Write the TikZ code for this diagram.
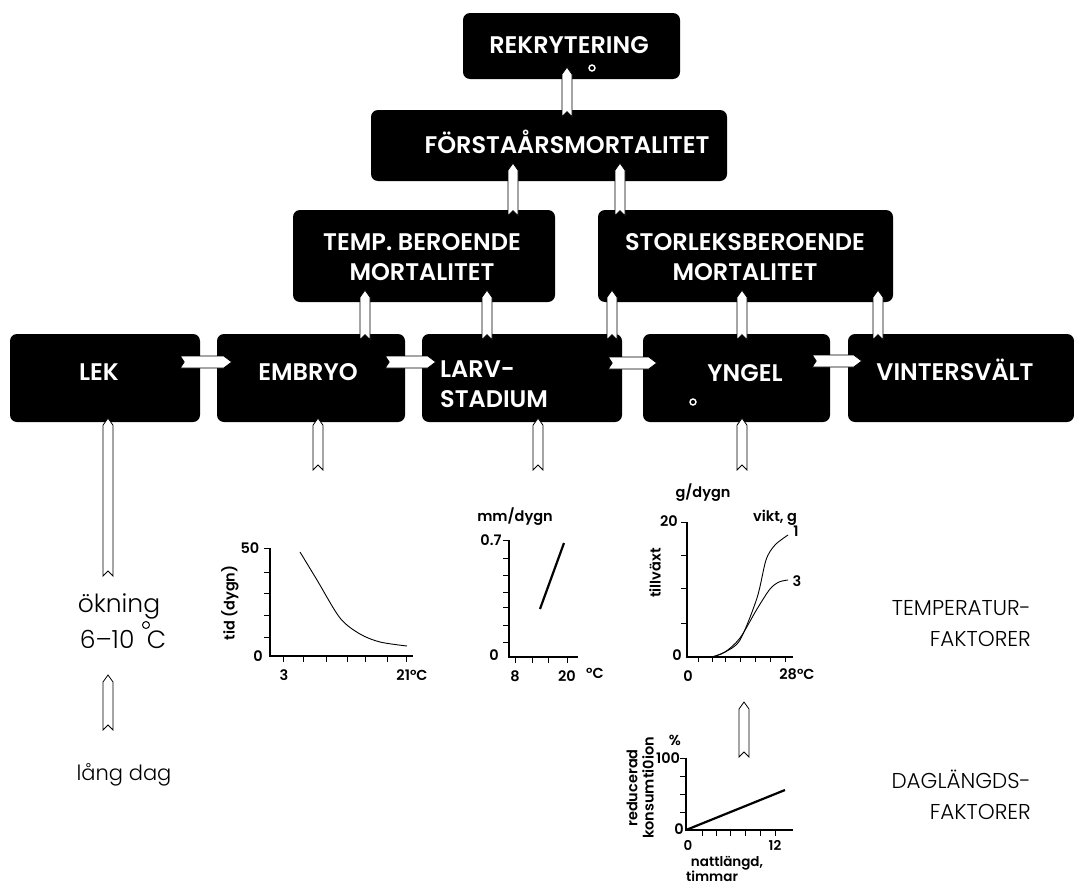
\documentclass[tikz,border=0pt]{standalone}
\usepackage{fontspec}
\setmainfont{Poppins}
\newfontfamily\boxfont{Poppins SemiBold}
\newfontfamily\lightfont{Poppins Light}
\usetikzlibrary{calc}
\tikzset{
  box/.style={fill=black, rounded corners=7pt, inner sep=0pt},
  boxtxt/.style={text=white, font=\boxfont\fontsize{24}{30}\selectfont, align=center, inner sep=0pt},
  arr/.style={fill=white, draw=black, line width=0.8pt, line join=miter},
  axisline/.style={line width=1.4pt},
  tickl/.style={line width=1pt},
  gl/.style={font=\boxfont\fontsize{14.5}{15}\selectfont, inner sep=0pt},
  glsm/.style={font=\boxfont\fontsize{13.5}{14}\selectfont, inner sep=0pt},
  bigtxt/.style={font=\lightfont\fontsize{25}{32}\selectfont, inner sep=0pt},
  rtxt/.style={font=\lightfont\fontsize{21.5}{31}\selectfont, inner sep=0pt, anchor=east, align=right},
  ring/.style={draw=white, line width=1.4pt},
}
\newcommand\varr[3]{\path let \p1=(#2), \p2=(#3) in [arr]
  ({#1pt-5pt},{\y1}) -- ({#1pt-5pt},{\y2-7pt}) -- ({#1pt},{\y2}) -- ({#1pt+5pt},{\y2-7pt}) -- ({#1pt+5pt},{\y1}) -- ({#1pt},{\y1+5pt}) -- cycle;}
\newcommand\harr[3]{\path let \p1=(#2), \p2=(#3) in [arr]
  ({\x1},{-#1pt+6pt}) -- ({\x2-8pt},{-#1pt+6pt}) -- ({\x2},{-#1pt}) -- ({\x2-8pt},{-#1pt-6pt}) -- ({\x1},{-#1pt-6pt}) -- ({\x1+4pt},{-#1pt}) -- cycle;}
\begin{document}
\begin{tikzpicture}[x=1pt,y=-1pt]
\useasboundingbox (0,0) rectangle (1074,886);
% boxes
\node[box, minimum width=217, minimum height=66] (rek) at (571.5,46) {};
\node[box, minimum width=356, minimum height=71] (forsta) at (549,145.5) {};
\node[box, minimum width=262, minimum height=92] (temp) at (424,256) {};
\node[box, minimum width=295, minimum height=92] (storlek) at (745.5,256) {};
\node[box, minimum width=190, minimum height=88] (lek) at (105,378) {};
\node[box, minimum width=188, minimum height=88] (embryo) at (311,378) {};
\node[box, minimum width=200, minimum height=88] (larv) at (522,378) {};
\node[box, minimum width=187, minimum height=88] (yngel) at (736.5,378) {};
\node[box, minimum width=226, minimum height=88] (vinter) at (961,378) {};
% box texts
\node[boxtxt] (trek) at (569,45) {REKRYTERING};
\node[boxtxt] (tforsta) at (567,142) {FÖRSTAÅRSMORTALITET};
\node[boxtxt] (ttemp) at (422,257) {TEMP. BEROENDE\\MORTALITET};
\node[boxtxt] (tstorlek) at (745,257) {STORLEKSBEROENDE\\MORTALITET};
\node[boxtxt] (tlek) at (99,372) {LEK};
\node[boxtxt] (tembryo) at (308,372) {EMBRYO};
\node[boxtxt, align=left, anchor=west] (tlarv) at (440,384) {LARV-\\STADIUM};
\node[boxtxt] (tyngel) at (745,373) {YNGEL};
\node[boxtxt] (tvinter) at (955,370) {VINTERSVÄLT};
\draw[ring] (592,68) circle (3);
\draw[ring] (693,402) circle (3);
% vertical arrows between boxes
\varr{567}{$(forsta.north)+(0,7)$}{$(rek.south)+(0,-12)$}
\varr{513}{$(temp.north)+(0,6)$}{$(forsta.south)+(0,-18)$}
\varr{620}{$(storlek.north)+(0,6)$}{$(forsta.south)+(0,-18)$}
\varr{365}{$(embryo.north)+(0,6)$}{$(temp.south)+(0,-12)$}
\varr{487}{$(larv.north)+(0,6)$}{$(temp.south)+(0,-12)$}
\varr{612}{$(larv.north)+(0,6)$}{$(storlek.south)+(0,-12)$}
\varr{742}{$(yngel.north)+(0,6)$}{$(storlek.south)+(0,-12)$}
\varr{878}{$(vinter.north)+(0,6)$}{$(storlek.south)+(0,-12)$}
% horizontal arrows
\harr{362}{$(lek.east)+(-20,0)$}{$(embryo.west)+(15,0)$}
\harr{362}{$(embryo.east)+(-20,0)$}{$(larv.west)+(14,0)$}
\harr{363}{$(larv.east)+(-14,0)$}{$(yngel.west)+(14,0)$}
\harr{361}{$(yngel.east)+(-18,0)$}{$(vinter.west)+(14,0)$}
% free ends below boxes
\coordinate (lekfoot) at (108,576);
\coordinate (embfoot) at (318,470);
\coordinate (larvfoot) at (538,470);
\coordinate (yngfoot) at (742,470);
\varr{108}{lekfoot}{$(lek.south)+(0,-4)$}
\varr{318}{embfoot}{$(embryo.south)+(0,-4)$}
\varr{538}{larvfoot}{$(larv.south)+(0,-4)$}
\varr{742}{yngfoot}{$(yngel.south)+(0,-4)$}
% left texts
\node[bigtxt] (okning) at (119,606) {ökning};
\node[bigtxt] (grader) at (123,639) {6–10\hspace{0.5em}C};
\draw[line width=1pt] (146,625) circle (3.5);
\node[bigtxt, font=\lightfont\fontsize{21}{30}\selectfont] (langdag) at (124,775) {lång dag};
\coordinate (okfoot) at (108,730);
\coordinate (okhead) at (108,675);
\varr{108}{okfoot}{okhead}
% right texts
\node[rtxt] (tempf) at (1031,624) {TEMPERATUR-\\FAKTORER};
\node[rtxt] (dagf) at (1031,795) {DAGLÄNGDS-\\FAKTORER};
% graph 1
\draw[axisline] (270,548) -- (270,656) -- (413,656);
\foreach \y in {548,572,593,615,637} \draw[tickl] (264,\y) -- (270,\y);
\foreach \x in {283,303,326,347,365,387,406} \draw[tickl] (\x,656) -- (\x,662);
\draw[line width=0.9pt] plot[smooth] coordinates {(300,552) (317,580) (340,618) (360,634) (380,642) (407,646)};
\node[gl] (g1a) at (250,548) {50};
\node[gl] (g1b) at (258,656) {0};
\node[gl] (g1c) at (284,675) {3};
\node[gl] (g1d) at (412,675) {21°C};
\node[gl, rotate=90] (g1e) at (230,603) {tid (dygn)};
% graph 2
\draw[axisline] (509,540) -- (509,657) -- (578,657);
\foreach \y in {540,558,575,592,607,625,642} \draw[tickl] (503,\y) -- (509,\y);
\foreach \x in {515,532,548,567} \draw[tickl] (\x,657) -- (\x,663);
\draw[line width=2.2pt] (540,609) -- (564,543);
\node[gl] (g2a) at (515,517) {mm/dygn};
\node[gl] (g2b) at (491,540) {0.7};
\node[gl] (g2c) at (494,655) {0};
\node[gl] (g2d) at (515,676) {8};
\node[gl] (g2e) at (567,676) {20};
\node[gl] (g2f) at (595,673) {°C};
% graph 3
\draw[axisline] (687,522) -- (687,657) -- (793,657);
\foreach \y in {522,555,588,623} \draw[tickl] (681,\y) -- (687,\y);
\foreach \x in {698,712,725,740,755,770,785} \draw[tickl] (\x,657) -- (\x,662);
\draw[line width=0.9pt] plot[smooth] coordinates {(712,657) (725,652) (740,640) (757,598) (766,560) (775,545) (788,535)};
\draw[line width=0.9pt] plot[smooth] coordinates {(712,657) (725,652) (740,638) (757,609) (770,589) (779,582) (788,580)};
\node[gl] (g3a) at (703,493) {g/dygn};
\node[gl] (g3b) at (775,518) {vikt, g};
\node[gl] (g3c) at (796,531) {1};
\node[gl] (g3d) at (797,581) {3};
\node[gl] (g3e) at (669,521) {20};
\node[gl] (g3f) at (677,655) {0};
\node[gl] (g3g) at (688,676) {0};
\node[gl] (g3h) at (797,674) {28°C};
\node[gl, rotate=90] (g3i) at (655,573) {tillväxt};
% arrow graph4 -> graph3
\coordinate (g4top) at (744,757);
\coordinate (g3foot) at (744,702);
\varr{744}{g4top}{g3foot}
% graph 4
\draw[axisline] (686,758) -- (686,830) -- (793,830);
\foreach \y in {758,776,794,812} \draw[tickl] (680,\y) -- (686,\y);
\foreach \x in {702,716,730,745,760,775} \draw[tickl] (\x,830) -- (\x,836);
\draw[line width=2.2pt] (686,830) -- (785,790);
\node[gl] (g4a) at (675,740) {\%};
\node[gl] (g4b) at (668,758) {100};
\node[gl] (g4c) at (679,829) {0};
\node[glsm] (g4d) at (688,845) {0};
\node[glsm] (g4e) at (775,845) {12};
\node[glsm] (g4f) at (727,863) {nattlängd,};
\node[glsm] (g4g) at (712,876) {timmar};
\node[gl, rotate=90] (g4h) at (632,788) {reducerad};
\node[gl, rotate=90] (g4i) at (648,788) {konsumti0ion};
\end{tikzpicture}
\end{document}
